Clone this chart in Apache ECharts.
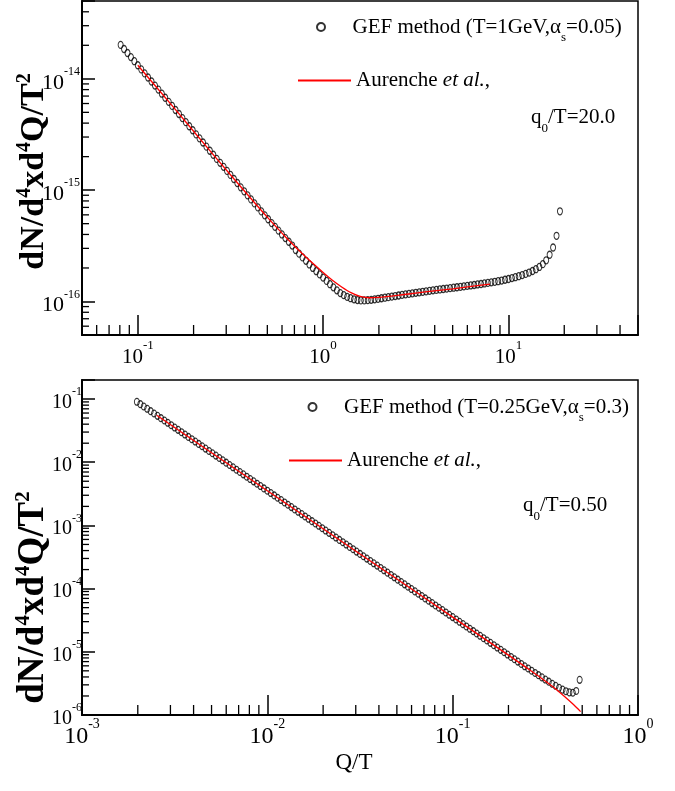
<!DOCTYPE html>
<html>
<head>
<meta charset="utf-8">
<script src="https://cdn.jsdelivr.net/npm/echarts@6/dist/echarts.min.js"></script>
<style>
  html, body { margin: 0; padding: 0; background: #ffffff; }
  #chart { width: 675px; height: 791px; }
</style>
</head>
<body>
<div id="chart"></div>
<script>
// ---------- Upper panel: T = 1 GeV, alpha_s = 0.05, q0/T = 20 ----------
const topQ = [
  0.0808, 0.0843, 0.0880, 0.0918, 0.0958,
  0.1000, 0.1044, 0.1089, 0.1136, 0.1186, 0.1238, 0.1292, 0.1348, 0.1406, 0.1468,
  0.1532, 0.1598, 0.1668, 0.1741, 0.1817, 0.1896, 0.1978, 0.2064, 0.2154, 0.2248,
  0.2346, 0.2448, 0.2555, 0.2666, 0.2783, 0.2904, 0.3030, 0.3162, 0.3300, 0.3444,
  0.3594, 0.3750, 0.3914, 0.4084, 0.4262, 0.4448, 0.4642, 0.4844, 0.5055, 0.5275,
  0.5505, 0.5745, 0.5995, 0.6256, 0.6529, 0.6813, 0.7110, 0.7419, 0.7743, 0.8080,
  0.8432, 0.8799, 0.9183, 0.9583,
  1.000, 1.044, 1.089, 1.136, 1.186, 1.238, 1.292, 1.348, 1.406, 1.468,
  1.532, 1.598, 1.668, 1.741, 1.817, 1.896, 1.978, 2.064, 2.154, 2.248,
  2.346, 2.448, 2.555, 2.666, 2.783, 2.904, 3.030, 3.162, 3.300, 3.444,
  3.594, 3.750, 3.914, 4.084, 4.262, 4.448, 4.642, 4.844, 5.055, 5.275,
  5.505, 5.745, 5.995, 6.256, 6.529, 6.813, 7.110, 7.419, 7.743, 8.080,
  8.432, 8.799, 9.183, 9.583,
  10.00, 10.44, 10.89, 11.36, 11.86, 12.38, 12.92, 13.48, 14.06, 14.68,
  15.32, 15.98, 16.68, 17.41, 18.17, 18.96
];
const topRate = [
  2.018e-14, 1.853e-14, 1.706e-14, 1.567e-14, 1.439e-14,
  1.324e-14, 1.216e-14, 1.119e-14, 1.028e-14, 9.46e-15, 8.69e-15, 8.00e-15, 7.35e-15, 6.76e-15, 6.21e-15,
  5.71e-15, 5.25e-15, 4.83e-15, 4.44e-15, 4.08e-15, 3.75e-15, 3.45e-15, 3.17e-15, 2.92e-15, 2.68e-15,
  2.46e-15, 2.26e-15, 2.08e-15, 1.91e-15, 1.76e-15, 1.62e-15, 1.49e-15, 1.37e-15, 1.26e-15, 1.16e-15,
  1.06e-15, 9.77e-16, 8.97e-16, 8.26e-16, 7.60e-16, 7.00e-16, 6.44e-16, 5.94e-16, 5.48e-16, 5.06e-16,
  4.68e-16, 4.33e-16, 4.00e-16, 3.71e-16, 3.44e-16, 3.18e-16, 2.90e-16, 2.69e-16, 2.49e-16, 2.32e-16,
  2.15e-16, 2.00e-16, 1.87e-16, 1.75e-16,
  1.64e-16, 1.53e-16, 1.43e-16, 1.34e-16, 1.26e-16, 1.19e-16, 1.14e-16, 1.10e-16, 1.07e-16, 1.045e-16,
  1.03e-16, 1.023e-16, 1.023e-16, 1.028e-16, 1.035e-16, 1.045e-16, 1.057e-16, 1.069e-16, 1.081e-16, 1.094e-16,
  1.107e-16, 1.119e-16, 1.132e-16, 1.146e-16, 1.159e-16, 1.169e-16, 1.183e-16, 1.197e-16, 1.208e-16, 1.222e-16,
  1.233e-16, 1.247e-16, 1.259e-16, 1.271e-16, 1.282e-16, 1.294e-16, 1.306e-16, 1.318e-16, 1.330e-16, 1.343e-16,
  1.355e-16, 1.368e-16, 1.380e-16, 1.393e-16, 1.406e-16, 1.422e-16, 1.435e-16, 1.452e-16, 1.469e-16, 1.486e-16,
  1.503e-16, 1.521e-16, 1.542e-16, 1.567e-16,
  1.592e-16, 1.622e-16, 1.652e-16, 1.687e-16, 1.726e-16, 1.770e-16, 1.820e-16, 1.879e-16, 1.950e-16, 2.042e-16,
  2.163e-16, 2.344e-16, 2.630e-16, 3.055e-16, 3.890e-16, 6.457e-16
];
const topRefQ = [0.1, 0.1585, 0.2512, 0.398, 0.501, 0.631, 0.794, 1.0, 1.122, 1.259,
  1.413, 1.585, 1.778, 1.995, 2.512, 3.162, 3.981, 5.012, 6.31, 7.943];
const topRefRate = [1.324e-14, 5.37e-15, 2.15e-15, 8.81e-16, 5.69e-16, 3.76e-16, 2.57e-16, 1.82e-16, 1.55e-16, 1.35e-16,
  1.20e-16, 1.11e-16, 1.08e-16, 1.09e-16, 1.135e-16, 1.19e-16, 1.245e-16, 1.30e-16, 1.365e-16, 1.43e-16];

// ---------- Lower panel: T = 0.25 GeV, alpha_s = 0.3, q0/T = 0.50 ----------
const botQ = [
  0.001978, 0.002064, 0.002154, 0.002248, 0.002346, 0.002448, 0.002555, 0.002666, 0.002783, 0.002904,
  0.003030, 0.003162, 0.003300, 0.003444, 0.003594, 0.003750, 0.003914, 0.004084, 0.004262, 0.004448,
  0.004642, 0.004844, 0.005055, 0.005275, 0.005505, 0.005745, 0.005995, 0.006256, 0.006529, 0.006813,
  0.007110, 0.007419, 0.007743, 0.008080, 0.008432, 0.008799, 0.009183, 0.009583,
  0.01000, 0.01044, 0.01089, 0.01136, 0.01186, 0.01238, 0.01292, 0.01348, 0.01406, 0.01468,
  0.01532, 0.01598, 0.01668, 0.01741, 0.01817, 0.01896, 0.01978, 0.02064, 0.02154, 0.02248,
  0.02346, 0.02448, 0.02555, 0.02666, 0.02783, 0.02904, 0.03030, 0.03162, 0.03300, 0.03444,
  0.03594, 0.03750, 0.03914, 0.04084, 0.04262, 0.04448, 0.04642, 0.04844, 0.05055, 0.05275,
  0.05505, 0.05745, 0.05995, 0.06256, 0.06529, 0.06813, 0.07110, 0.07419, 0.07743, 0.08080,
  0.08432, 0.08799, 0.09183, 0.09583,
  0.1000, 0.1044, 0.1089, 0.1136, 0.1186, 0.1238, 0.1292, 0.1348, 0.1406, 0.1468,
  0.1532, 0.1598, 0.1668, 0.1741, 0.1817, 0.1896, 0.1978, 0.2064, 0.2154, 0.2248,
  0.2346, 0.2448, 0.2555, 0.2666, 0.2783, 0.2904, 0.3030, 0.3162, 0.3300, 0.3444,
  0.3594, 0.3750, 0.3914, 0.4084, 0.4262, 0.4448, 0.4642, 0.4844
];
const botRate = [
  0.0904, 0.0830, 0.0762, 0.0700, 0.0643, 0.0590, 0.0542, 0.0498, 0.0457, 0.0420, 0.0385,
  0.0354, 0.03251, 0.02985, 0.02741, 0.02517, 0.02311, 0.02122, 0.01949, 0.01790, 0.01643,
  0.01509, 0.01386, 0.01273, 0.01168, 0.01073, 0.00985, 0.00904, 0.00830, 0.00762, 0.00700,
  0.00643, 0.00590, 0.00542, 0.00498, 0.00457, 0.00420, 0.00385,
  3.540e-3, 3.251e-3, 2.985e-3, 2.741e-3, 2.517e-3, 2.311e-3, 2.122e-3, 1.949e-3, 1.790e-3, 1.643e-3,
  1.509e-3, 1.386e-3, 1.273e-3, 1.168e-3, 1.073e-3, 9.85e-4, 9.04e-4, 8.30e-4, 7.62e-4, 7.00e-4,
  6.43e-4, 5.90e-4, 5.42e-4, 4.98e-4, 4.57e-4, 4.20e-4, 3.85e-4,
  3.540e-4, 3.251e-4, 2.985e-4, 2.741e-4, 2.517e-4, 2.311e-4, 2.122e-4, 1.949e-4, 1.790e-4, 1.643e-4,
  1.509e-4, 1.386e-4, 1.273e-4, 1.168e-4, 1.073e-4, 9.85e-5, 9.04e-5, 8.30e-5, 7.62e-5, 7.00e-5,
  6.43e-5, 5.90e-5, 5.42e-5, 4.98e-5, 4.57e-5, 4.20e-5, 3.85e-5,
  3.540e-5, 3.251e-5, 2.985e-5, 2.741e-5, 2.517e-5, 2.311e-5, 2.122e-5, 1.949e-5, 1.790e-5, 1.643e-5,
  1.509e-5, 1.386e-5, 1.273e-5, 1.168e-5, 1.073e-5, 9.85e-6, 9.04e-6, 8.30e-6, 7.62e-6, 7.00e-6,
  6.43e-6, 5.90e-6, 5.45e-6, 5.02e-6, 4.63e-6, 4.27e-6, 3.94e-6,
  3.64e-6, 3.37e-6, 3.12e-6, 2.90e-6, 2.70e-6, 2.52e-6, 2.38e-6, 2.28e-6, 2.25e-6, 2.40e-6, 3.60e-6
];
const botRefQ = [0.00253, 0.005, 0.01, 0.02, 0.05, 0.1, 0.2, 0.25, 0.3, 0.35, 0.4, 0.45, 0.49];
const botRefRate = [0.0553, 0.01416, 3.54e-3, 8.85e-4, 1.416e-4, 3.54e-5, 8.85e-6, 5.62e-6, 3.86e-6, 2.75e-6, 1.98e-6, 1.45e-6, 1.13e-6];

// ---------- Axis ranges and minor tick positions ----------
const topXRange = [0.05, 50];
const topYRange = [5e-17, 5e-14];
const botXRange = [0.001, 1];
const botYRange = [1e-6, 0.2];
const topXMinor = [0.06, 0.07, 0.08, 0.09, 0.2, 0.3, 0.4, 0.5, 0.6, 0.7, 0.8, 0.9,
  2, 3, 4, 5, 6, 7, 8, 9, 20, 30, 40];
const topYMinor = [6e-17, 7e-17, 8e-17, 9e-17,
  2e-16, 3e-16, 4e-16, 5e-16, 6e-16, 7e-16, 8e-16, 9e-16,
  2e-15, 3e-15, 4e-15, 5e-15, 6e-15, 7e-15, 8e-15, 9e-15,
  2e-14, 3e-14, 4e-14];
const botXMinor = [0.002, 0.003, 0.004, 0.005, 0.006, 0.007, 0.008, 0.009,
  0.02, 0.03, 0.04, 0.05, 0.06, 0.07, 0.08, 0.09,
  0.2, 0.3, 0.4, 0.5, 0.6, 0.7, 0.8, 0.9];
const botYMinor = [2e-6, 3e-6, 4e-6, 5e-6, 6e-6, 7e-6, 8e-6, 9e-6,
  2e-5, 3e-5, 4e-5, 5e-5, 6e-5, 7e-5, 8e-5, 9e-5,
  2e-4, 3e-4, 4e-4, 5e-4, 6e-4, 7e-4, 8e-4, 9e-4,
  2e-3, 3e-3, 4e-3, 5e-3, 6e-3, 7e-3, 8e-3, 9e-3,
  0.02, 0.03, 0.04, 0.05, 0.06, 0.07, 0.08, 0.09];

const GEF_TOP = 'GEF method (T=1GeV, αs=0.05)';
const AUR_TOP = 'Aurenche et al. (q0/T=20.0)';
const GEF_BOT = 'GEF method (T=0.25GeV, αs=0.3)';
const AUR_BOT = 'Aurenche et al. (q0/T=0.50)';

const FONT = '"Liberation Serif", "Times New Roman", serif';
const ELLIPSE = 'path://M1,0C1,0.552,0.552,1,0,1C-0.552,1,-1,0.552,-1,0C-1,-0.552,-0.552,-1,0,-1C0.552,-1,1,-0.552,1,0Z';

// rich styles for "10^n" tick labels
function powRich(big, small) {
  return {
    b: { fontFamily: FONT, fontSize: big, lineHeight: big, color: '#000', padding: [Math.round(big * 0.35), 0, 0, 0] },
    s: { fontFamily: FONT, fontSize: small, lineHeight: small, color: '#000', padding: [0, 0, Math.round(small * 1.2), 0] }
  };
}
function powLabel(v) {
  const e = Math.log10(v);
  const n = Math.round(e);
  if (Math.abs(e - n) > 1e-6) return '';
  return '{b|10}{s|' + String(n) + '}';
}

function xAxisCfg(grid, range, big, small, margin) {
  return {
    type: 'log', logBase: 10, gridIndex: grid, min: range[0], max: range[1],
    axisLine: { show: true, lineStyle: { color: '#000', width: 2 } },
    axisTick: { show: true, inside: true, length: 20, lineStyle: { color: '#000', width: 1.5 } },
    axisLabel: { formatter: powLabel, margin: margin, rich: powRich(big, small), showMinLabel: true, showMaxLabel: true },
    splitLine: { show: false }
  };
}
function yAxisCfg(grid, range, big, small, margin) {
  return {
    type: 'log', logBase: 10, gridIndex: grid, min: range[0], max: range[1],
    axisLine: { show: true, lineStyle: { color: '#000', width: 2 } },
    axisTick: { show: true, inside: true, length: 13, lineStyle: { color: '#000', width: 1.5 } },
    axisLabel: { formatter: powLabel, margin: margin, rich: powRich(big, small), showMinLabel: true, showMaxLabel: true },
    splitLine: { show: false }
  };
}

// y-axis title: dN/d^4x d^4Q / T^2
function yTitleRich(size) {
  const sup = Math.round(size * 0.58);
  return {
    a: { fontFamily: FONT, fontWeight: 'bold', fontSize: size, lineHeight: size, color: '#000' },
    p: { fontFamily: FONT, fontWeight: 'bold', fontSize: sup, lineHeight: sup, color: '#000', padding: [0, 0, Math.round(size * 0.55), 0] }
  };
}
const Y_TITLE = '{a|dN/d}{p|4}{a|xd}{p|4}{a|Q/T}{p|2}';

// minor ticks drawn through the axis scales
function xMinorTicks(len) {
  return function (params, api) {
    const p = api.coord([api.value(0), api.value(1)]);
    const cs = params.coordSys;
    const yb = cs.y + cs.height;
    return { type: 'line', shape: { x1: p[0], y1: yb, x2: p[0], y2: yb - len },
      style: { stroke: '#000', lineWidth: 1.3 } };
  };
}
function yMinorTicks(len) {
  return function (params, api) {
    const p = api.coord([api.value(0), api.value(1)]);
    const cs = params.coordSys;
    return { type: 'line', shape: { x1: cs.x, y1: p[1], x2: cs.x + len, y2: p[1] },
      style: { stroke: '#000', lineWidth: 1.3 } };
  };
}

const legendRich = {
  t: { fontFamily: FONT, fontSize: 21, lineHeight: 24, color: '#000', fontWeight: 'normal' },
  i: { fontFamily: FONT, fontSize: 21, lineHeight: 24, color: '#000', fontWeight: 'normal', fontStyle: 'italic' },
  sub: { fontFamily: FONT, fontSize: 13, lineHeight: 13, color: '#000', fontWeight: 'normal', padding: [22, 0, 0, 0] }
};
const legendText = {};
legendText[GEF_TOP] = '{t|GEF method (T=1GeV,α}{sub|s}{t|=0.05)}';
legendText[GEF_BOT] = '{t|GEF method (T=0.25GeV,α}{sub|s}{t|=0.3)}';
legendText[AUR_TOP] = '{t|Aurenche }{i|et al.}{t|,}';
legendText[AUR_BOT] = '{t|Aurenche }{i|et al.}{t|,}';

function legendCfg(name, left, top, hideSymbol) {
  const cfg = {
    data: [name], left: left, top: top, padding: 0, itemWidth: 53, itemHeight: 8,
    selectedMode: false, formatter: function (n) { return legendText[n]; },
    textStyle: { color: '#000', rich: legendRich }
  };
  if (hideSymbol) cfg.itemStyle = { opacity: 0 };
  return cfg;
}

const noteRich = {
  q: { fontFamily: FONT, fontSize: 21, lineHeight: 24, color: '#000', fontWeight: 'normal' },
  sub: { fontFamily: FONT, fontSize: 13, lineHeight: 13, color: '#000', fontWeight: 'normal', padding: [22, 0, 0, 0] }
};

const chart = echarts.init(document.getElementById('chart'), null, { renderer: 'canvas' });

const option = {
  backgroundColor: '#ffffff',
  animation: false,
  grid: [
    { left: 82, top: 1, width: 556, height: 334, show: true, borderColor: '#000', borderWidth: 1.5,
      backgroundColor: 'transparent', containLabel: false, outerBoundsMode: 'none' },
    { left: 82, top: 380, width: 556, height: 335, show: true, borderColor: '#000', borderWidth: 1.5,
      backgroundColor: 'transparent', containLabel: false, outerBoundsMode: 'none' }
  ],
  xAxis: [
    xAxisCfg(0, topXRange, 21, 13, 8),
    Object.assign(xAxisCfg(1, botXRange, 24, 14, 6), {
      name: 'Q/T', nameLocation: 'middle', nameGap: 36, nameMoveOverlap: false,
      nameTextStyle: { fontFamily: FONT, fontSize: 23, color: '#000', padding: [0, 12, 0, 0] }
    })
  ],
  yAxis: [
    Object.assign(yAxisCfg(0, topYRange, 22, 12, 2), {
      name: Y_TITLE, nameLocation: 'middle', nameRotate: 90, nameGap: 31, nameMoveOverlap: false,
      nameTextStyle: { rich: yTitleRich(34), padding: [0, 7, 0, 0] }
    }),
    Object.assign(yAxisCfg(1, botYRange, 20, 12, 0), {
      name: Y_TITLE, nameLocation: 'middle', nameRotate: 90, nameGap: 30, nameMoveOverlap: false,
      nameTextStyle: { rich: yTitleRich(37), padding: [0, 100, 0, 0] }
    })
  ],
  legend: [
    legendCfg(GEF_TOP, 316, 9.5, false),
    legendCfg(AUR_TOP, 297, 70, true),
    legendCfg(GEF_BOT, 307.5, 389.5, false),
    legendCfg(AUR_BOT, 288, 450, true)
  ],
  title: [
    { text: '{q|q}{sub|0}{q|/T=20.0}', left: 531, top: 105.5, padding: 0, textStyle: { fontWeight: 'normal', rich: noteRich } },
    { text: '{q|q}{sub|0}{q|/T=0.50}', left: 523, top: 493.5, padding: 0, textStyle: { fontWeight: 'normal', rich: noteRich } }
  ],
  series: [
    {
      type: 'scatter', name: GEF_TOP, xAxisIndex: 0, yAxisIndex: 0,
      data: topQ.map(function (q, i) { return [q, topRate[i]]; }),
      symbol: ELLIPSE, symbolSize: [5, 7],
      itemStyle: { color: 'rgba(0,0,0,0)', borderColor: '#000', borderWidth: 1.1 },
      emphasis: { disabled: true }, silent: true, z: 2
    },
    {
      type: 'line', name: AUR_TOP, xAxisIndex: 0, yAxisIndex: 0,
      data: topRefQ.map(function (q, i) { return [q, topRefRate[i]]; }),
      symbol: 'none', showSymbol: false, smooth: 0.3,
      lineStyle: { color: '#ff0000', width: 1.3 }, itemStyle: { color: '#ff0000' },
      emphasis: { disabled: true }, silent: true, z: 3
    },
    {
      type: 'scatter', name: GEF_BOT, xAxisIndex: 1, yAxisIndex: 1,
      data: botQ.map(function (q, i) { return [q, botRate[i]]; }),
      symbol: ELLIPSE, symbolSize: [5, 6.8],
      itemStyle: { color: 'rgba(0,0,0,0)', borderColor: '#000', borderWidth: 1.1 },
      emphasis: { disabled: true }, silent: true, z: 2
    },
    {
      type: 'line', name: AUR_BOT, xAxisIndex: 1, yAxisIndex: 1,
      data: botRefQ.map(function (q, i) { return [q, botRefRate[i]]; }),
      symbol: 'none', showSymbol: false, smooth: 0.3,
      lineStyle: { color: '#ff0000', width: 1.3 }, itemStyle: { color: '#ff0000' },
      emphasis: { disabled: true }, silent: true, z: 3
    },
    {
      type: 'custom', xAxisIndex: 0, yAxisIndex: 0, silent: true, z: 4,
      data: topXMinor.map(function (v) { return [v, topYRange[0]]; }),
      renderItem: xMinorTicks(10)
    },
    {
      type: 'custom', xAxisIndex: 0, yAxisIndex: 0, silent: true, z: 4,
      data: topYMinor.map(function (v) { return [topXRange[0], v]; }),
      renderItem: yMinorTicks(7)
    },
    {
      type: 'custom', xAxisIndex: 1, yAxisIndex: 1, silent: true, z: 4,
      data: botXMinor.map(function (v) { return [v, botYRange[0]]; }),
      renderItem: xMinorTicks(10)
    },
    {
      type: 'custom', xAxisIndex: 1, yAxisIndex: 1, silent: true, z: 4,
      data: botYMinor.map(function (v) { return [botXRange[0], v]; }),
      renderItem: yMinorTicks(7)
    }
  ]
};

chart.setOption(option);
</script>
</body>
</html>
